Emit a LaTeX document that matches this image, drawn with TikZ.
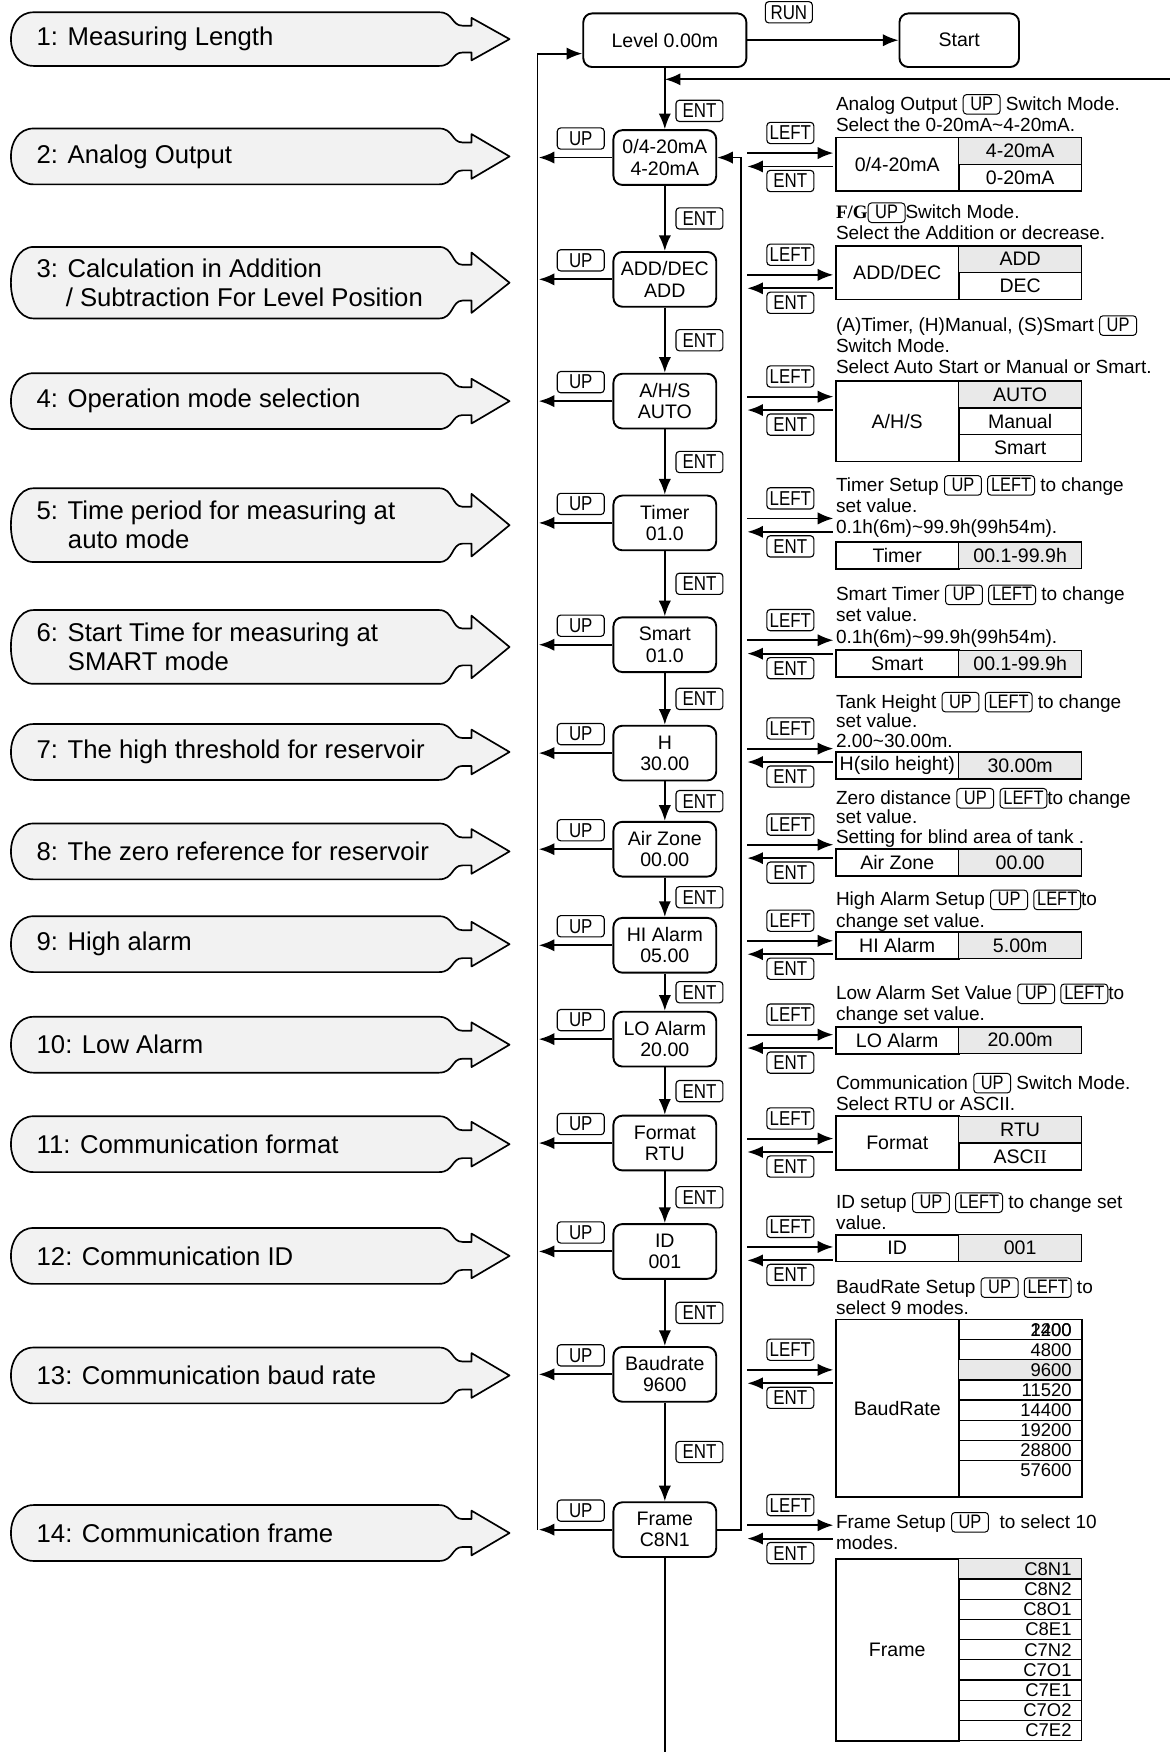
\documentclass[tikz,border=0pt]{standalone}
\usepackage{fontspec}
\setmainfont{Liberation Sans}
\newfontfamily\serifF{Liberation Serif}
\newfontfamily\keyfont[FakeStretch=0.84]{Liberation Sans}
\usetikzlibrary{positioning, arrows.meta, calc}

% key drawn inside running text
\newcommand\kb[1]{\tikz[baseline=(kb.base)]\node[inkey] (kb) {#1};}
\newcommand\nolineskip{\lineskiplimit=-20pt\relax}
% grey banner on the left: name, y, half height, text
\newcommand\bannerrow[4]{%
  \path[bannerbox] (422,#2-#3/2) -- (422,#2-#3+5) -- (456,#2) -- (422,#2+#3-5) -- (422,#2+#3/2)
    -- (414,#2+#3/2) .. controls (404,#2+#3/2) and (406,#2+#3) .. (393,#2+#3) -- (30,#2+#3)
    .. controls (3,#2+#3) and (3,#2-#3) .. (30,#2-#3) -- (393,#2-#3)
    .. controls (406,#2-#3) and (404,#2-#3/2) .. (414,#2-#3/2) -- cycle;
  \node[bannertext] (#1) at (32,#2) {#4};}

\begin{document}
\begin{tikzpicture}[x=1pt, y=-1pt, line width=1.7pt, >={Latex[length=14pt,width=11pt]},
  mbox/.style={draw, rounded corners=8pt, minimum width=92pt, minimum height=49pt, align=center, inner sep=1pt, font=\fontsize{17.5}{19}\selectfont},
  keycap/.style={draw, rounded corners=3pt, line width=1pt, minimum width=42pt, minimum height=19pt, inner sep=1.5pt, font=\keyfont\fontsize{18}{18}\selectfont},
  inkey/.style={draw, rounded corners=3pt, line width=0.9pt, minimum width=33pt, inner xsep=3pt, inner ysep=1.5pt, text height=12.5pt, text depth=2pt, font=\keyfont\fontsize{17.5}{18}\selectfont},
  desc/.style={anchor=north west, inner sep=0pt, align=left, font=\fontsize{17}{19}\selectfont\nolineskip},
  tight/.style={font=\fontsize{17}{17.5}\selectfont\nolineskip},
  cellL/.style={draw, anchor=north west, minimum width=110pt, inner sep=0pt, outer sep=0pt, line width=1.6pt, font=\fontsize{17.5}{19}\selectfont},
  cellR/.style={draw, minimum width=110pt, minimum height=24pt, inner sep=0pt, outer sep=0pt, line width=1.3pt, font=\fontsize{17.5}{19}\selectfont},
  hl/.style={fill=gray!17},
  brow/.style={draw, anchor=north west, minimum height=18pt, text width=92pt, align=right, inner xsep=9pt, inner ysep=0pt, outer sep=0pt, line width=1.1pt, font=\fontsize{16.5}{17}\selectfont},
  nobord/.style={draw=none},
  bannerbox/.style={draw, fill=gray!10, line width=1.5pt, line join=round},
  bannertext/.style={anchor=west, inner sep=0pt, align=left, font=\fontsize{23}{26}\selectfont}]

\useasboundingbox (0,0) rectangle (1047,1568);

% banners
\bannerrow{bn1}{35}{24}{1: Measuring Length}
\bannerrow{bn2}{140}{25}{2: Analog Output}
\bannerrow{bn3}{253}{32}{3: Calculation in Addition\\\hspace*{26pt}/ Subtraction For Level Position}
\bannerrow{bn4}{359}{25}{4: Operation mode selection}
\bannerrow{bn5}{470}{33}{5: Time period for measuring at\\\hspace*{28pt}auto mode}
\bannerrow{bn6}{579}{33}{6: Start Time for measuring at\\\hspace*{28pt}SMART mode}
\bannerrow{bn7}{673}{25}{7: The high threshold for reservoir}
\bannerrow{bn8}{762}{25}{8: The zero reference for reservoir}
\bannerrow{bn9}{845}{25}{9: High alarm}
\bannerrow{bn10}{935}{25}{10: Low Alarm}
\bannerrow{bn11}{1024}{25}{11: Communication format}
\bannerrow{bn12}{1124}{25}{12: Communication ID}
\bannerrow{bn13}{1231}{25}{13: Communication baud rate}
\bannerrow{bn14}{1372}{25}{14: Communication frame}

% top row
\node[mbox, minimum width=146pt, minimum height=48pt] (lvl) at (595,36) {Level 0.00m};
\node[mbox, minimum width=107pt, minimum height=48pt] (start) at (858.5,36) {Start};
\node[keycap] (run) at (706,11) {RUN};
\draw[->] (lvl) -- (start);

% menu column
\node[mbox] (b2) at (595,141) {0/4-20mA\\4-20mA};
\node[mbox] (b3) at (595,250) {ADD/DEC\\ADD};
\node[mbox] (b4) at (595,359) {A/H/S\\AUTO};
\node[mbox] (b5) at (595,468) {Timer\\01.0};
\node[mbox] (b6) at (595,577) {Smart\\01.0};
\node[mbox] (b7) at (595,674) {H\\30.00};
\node[mbox] (b8) at (595,760) {Air Zone\\00.00};
\node[mbox] (b9) at (595,846) {HI Alarm\\05.00};
\node[mbox] (b10) at (595,930) {LO Alarm\\20.00};
\node[mbox] (b11) at (595,1023) {Format\\RTU};
\node[mbox] (b12) at (595,1120) {ID\\001};
\node[mbox] (b13) at (595,1230) {Baudrate\\9600};
\node[mbox] (b14) at (595,1369) {Frame\\C8N1};

\coordinate (ret) at (1047,71);
\coordinate (ll) at (481,1369);
\coordinate (bot) at (595,1568);

\draw[->] (ret) -- (ret -| lvl);
\draw[->] (lvl) -- (b2) node[keycap, pos=0.7, xshift=31pt] {ENT};
\foreach \a/\b in {b2/b3,b3/b4,b4/b5,b5/b6,b6/b7,b7/b8,b8/b9,b9/b10,b10/b11,b11/b12,b12/b13,b13/b14}
  \draw[->] (\a) -- (\b) node[keycap, midway, xshift=31pt] {ENT};
\draw (b14) -- (bot);
\draw[->] (ll) |- ([yshift=-12pt]lvl.west);
\draw[->] (b14.east) -- ++(21,0) |- (b2.east);
\foreach \b in {b2,b3,b4,b5,b6,b7,b8,b9,b10,b11,b12,b13,b14} {
  \draw[->] (\b.west) -- ++(-66,0) node[keycap, pos=0.43, yshift=17pt] {UP};
  \draw[->] ([xshift=27pt,yshift=4pt]\b.east) -- ++(77,0) node[keycap, midway, yshift=18pt] {LEFT};
  \draw[<-] ([xshift=27pt,yshift=-8pt]\b.east) -- ++(77,0) node[keycap, midway, yshift=-13pt] {ENT};
}

% descriptions
\node[desc] (d2) at (748,84) {Analog Output \kb{UP} Switch Mode.\\Select the 0-20mA\textasciitilde 4-20mA.};
\node[desc] (d3) at (748,181) {{\serifF\bfseries F/G}\kb{UP}Switch Mode.\\Select the Addition or decrease.};
\node[desc] (d4) at (748,282) {(A)Timer, (H)Manual, (S)Smart \kb{UP}\\Switch Mode.\\Select Auto Start or Manual or Smart.};
\node[desc] (d5) at (748,425) {Timer Setup \kb{UP} \kb{LEFT} to change\\set value.\\0.1h(6m)\textasciitilde 99.9h(99h54m).};
\node[desc] (d6) at (748,523) {Smart Timer \kb{UP} \kb{LEFT} to change\\set value.\\0.1h(6m)\textasciitilde 99.9h(99h54m).};
\node[desc, tight] (d7) at (748,619) {Tank Height \kb{UP} \kb{LEFT} to change\\set value.\\2.00\textasciitilde 30.00m.};
\node[desc, tight] (d8) at (748,705) {Zero distance \kb{UP} \kb{LEFT}to change\\set value.\\Setting for blind area of tank .};
\node[desc] (d9) at (748,796) {High Alarm Setup \kb{UP} \kb{LEFT}to\\change set value.};
\node[desc] (d10) at (748,880) {Low Alarm Set Value \kb{UP} \kb{LEFT}to\\change set value.};
\node[desc] (d11) at (748,960) {Communication \kb{UP} Switch Mode.\\Select RTU or ASCII.};
\node[desc] (d12) at (748,1067) {ID setup \kb{UP} \kb{LEFT} to change set\\value.};
\node[desc] (d13) at (748,1143) {BaudRate Setup \kb{UP} \kb{LEFT} to\\select 9 modes.};
\node[desc] (d14) at (748,1353) {Frame Setup \kb{UP}\ \ to select 10\\modes.};

% option tables
\node[cellL, minimum height=48pt] (t2) at (748,123) {0/4-20mA};
\node[cellR, hl, anchor=north west] (t2a) at (t2.north east) {4-20mA};
\node[cellR, below=0pt of t2a] (t2b) {0-20mA};

\node[cellL, minimum height=48pt] (t3) at (748,220) {ADD/DEC};
\node[cellR, hl, anchor=north west] (t3a) at (t3.north east) {ADD};
\node[cellR, below=0pt of t3a] (t3b) {DEC};

\node[cellL, minimum height=72pt] (t4) at (748,341) {A/H/S};
\node[cellR, hl, anchor=north west] (t4a) at (t4.north east) {AUTO};
\node[cellR, below=0pt of t4a] (t4b) {Manual};
\node[cellR, below=0pt of t4b] (t4c) {Smart};

\node[cellL, minimum height=24pt] (t5) at (748,485) {Timer};
\node[cellR, hl, anchor=north west] (t5a) at (t5.north east) {00.1-99.9h};
\node[cellL, minimum height=24pt] (t6) at (748,582) {Smart};
\node[cellR, hl, anchor=north west] (t6a) at (t6.north east) {00.1-99.9h};
\node[cellL, minimum height=24pt] (t7) at (748,673) {H(silo height)};
\node[cellR, hl, anchor=north west] (t7a) at (t7.north east) {30.00m};
\node[cellL, minimum height=24pt] (t8) at (748,760) {Air Zone};
\node[cellR, hl, anchor=north west] (t8a) at (t8.north east) {00.00};
\node[cellL, minimum height=24pt] (t9) at (748,834) {HI Alarm};
\node[cellR, hl, anchor=north west] (t9a) at (t9.north east) {5.00m};
\node[cellL, minimum height=24pt] (t10) at (748,919) {LO Alarm};
\node[cellR, hl, anchor=north west] (t10a) at (t10.north east) {20.00m};

\node[cellL, minimum height=48pt] (t11) at (748,999) {Format};
\node[cellR, hl, anchor=north west] (t11a) at (t11.north east) {RTU};
\node[cellR, below=0pt of t11a] (t11b) {ASC{\serifF II}};

\node[cellL, minimum height=24pt] (t12) at (748,1105) {ID};
\node[cellR, hl, anchor=north west] (t12a) at (t12.north east) {001};

\node[cellL, minimum height=159pt] (t13) at (748,1181) {BaudRate};
\draw[line width=1.6pt] (t13.north west) rectangle ($(t13.south west)+(220,0)$);
\foreach \v/\s [count=\i] in {2400/,4800/,9600/hl,11520/,14400/,19200/,28800/,57600/nobord}
  \node[brow, \s] (r\i) at ($(t13.north east)+(0,{18*(\i-1)})$) {\v};
\node[brow, draw=none] (r0) at (r1.north west) {1200};

\node[cellL, minimum height=163pt] (t14) at (748,1395) {Frame};
\foreach \v/\s [count=\i] in {C8N1/hl,C8N2/,C8O1/,C8E1/,C7N2/,C7O1/,C7E1/,C7O2/,C7E2/}
  \node[brow, minimum height=18.1pt, \s] (f\i) at ($(t14.north east)+(0,{18.1*(\i-1)})$) {\v};

\end{tikzpicture}
\end{document}
